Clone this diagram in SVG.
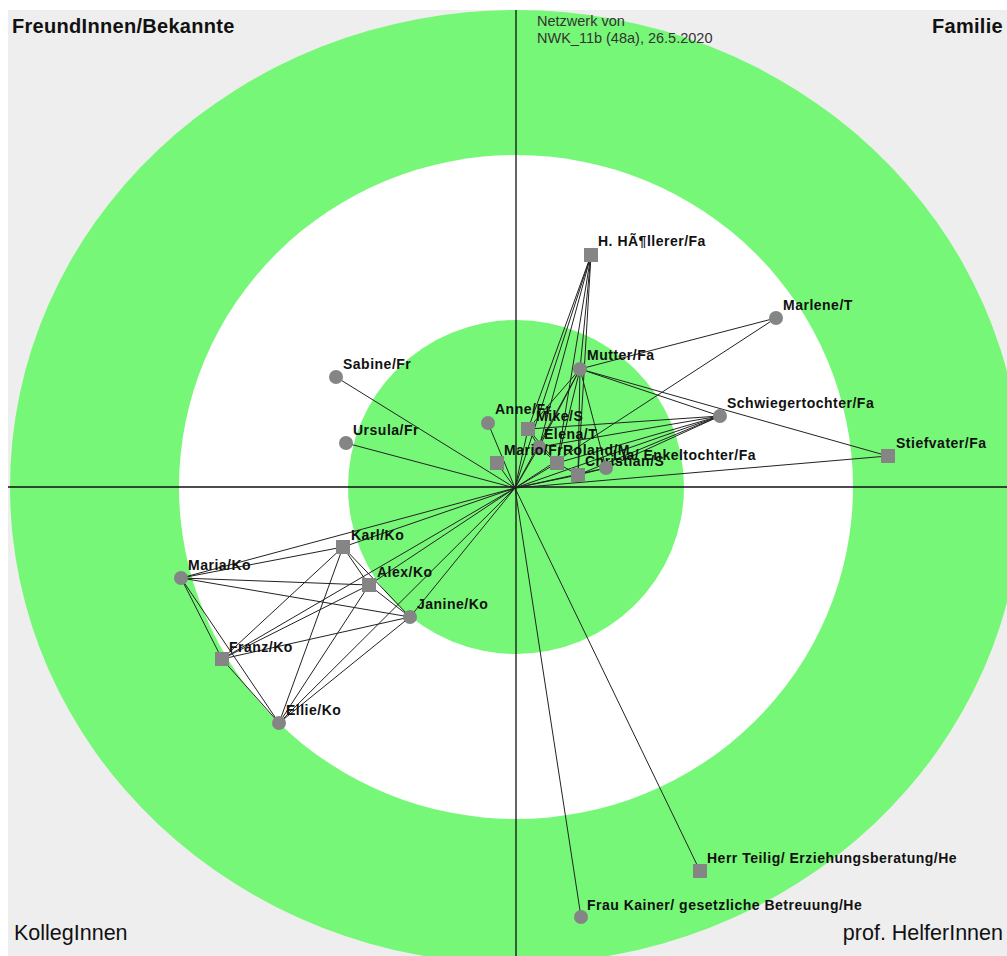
<svg xmlns="http://www.w3.org/2000/svg" width="1007" height="956" viewBox="0 0 1007 956">
<style>
.lbl{font-family:"Liberation Sans",Arial,sans-serif;font-weight:bold;font-size:14px;letter-spacing:0.5px;fill:#111}
.q{font-family:"Liberation Sans",Arial,sans-serif;font-size:20px;fill:#111}
.qr{font-size:21.5px}
.qb{font-weight:bold;letter-spacing:0.3px}
.hd{font-family:"Liberation Sans",Arial,sans-serif;font-size:14.5px;fill:#333}
.n{fill:#858585}
.e line{stroke:#222;stroke-width:1}
.ax{stroke:#111;stroke-width:1.3}
</style>
<rect x="0" y="0" width="1007" height="956" fill="#ffffff"/>
<rect x="8" y="10" width="999" height="946" fill="#eeeeee"/>
<g id="rings">
<ellipse cx="516" cy="487" rx="506" ry="477" fill="#77f777"/>
<ellipse cx="516" cy="487" rx="337" ry="332" fill="#ffffff"/>
<ellipse cx="516" cy="487" rx="168" ry="167" fill="#77f777"/>
</g>
<g id="axes">
<line class="ax" x1="516" y1="10" x2="516" y2="956"/>
<line class="ax" x1="8" y1="487" x2="1007" y2="487"/>
</g>
<g id="header">
<text class="hd" x="537" y="26">Netzwerk von</text>
<text class="hd" x="537" y="43">NWK_11b (48a), 26.5.2020</text>
</g>
<g id="quadrants">
<text class="q qb" x="12" y="33">FreundInnen/Bekannte</text>
<text class="q qb" x="1003" y="33" text-anchor="end">Familie</text>
<text class="q qr" x="14" y="940">KollegInnen</text>
<text class="q qr" x="1003" y="940" text-anchor="end">prof. HelferInnen</text>
</g>
<g id="connectors" class="e">
<line x1="515" y1="488" x2="336" y2="377"/>
<line x1="515" y1="488" x2="346" y2="443"/>
<line x1="515" y1="488" x2="488" y2="423"/>
<line x1="515" y1="488" x2="528" y2="429"/>
<line x1="515" y1="488" x2="539" y2="447"/>
<line x1="515" y1="488" x2="497" y2="463"/>
<line x1="515" y1="488" x2="557" y2="463"/>
<line x1="515" y1="488" x2="578" y2="475"/>
<line x1="515" y1="488" x2="606" y2="468"/>
<line x1="515" y1="488" x2="580" y2="369"/>
<line x1="515" y1="488" x2="591" y2="255"/>
<line x1="515" y1="488" x2="776" y2="318"/>
<line x1="515" y1="488" x2="720" y2="416"/>
<line x1="515" y1="488" x2="888" y2="456"/>
<line x1="515" y1="488" x2="343" y2="547"/>
<line x1="515" y1="488" x2="181" y2="578"/>
<line x1="515" y1="488" x2="369" y2="585"/>
<line x1="515" y1="488" x2="410" y2="617"/>
<line x1="515" y1="488" x2="222" y2="659"/>
<line x1="515" y1="488" x2="279" y2="723"/>
<line x1="515" y1="488" x2="700" y2="871"/>
<line x1="515" y1="488" x2="581" y2="917"/>
<line x1="591" y1="255" x2="580" y2="369"/>
<line x1="591" y1="255" x2="528" y2="429"/>
<line x1="591" y1="255" x2="539" y2="447"/>
<line x1="591" y1="255" x2="557" y2="463"/>
<line x1="591" y1="255" x2="578" y2="475"/>
<line x1="580" y1="369" x2="776" y2="318"/>
<line x1="580" y1="369" x2="720" y2="416"/>
<line x1="580" y1="369" x2="888" y2="456"/>
<line x1="580" y1="369" x2="528" y2="429"/>
<line x1="580" y1="369" x2="539" y2="447"/>
<line x1="580" y1="369" x2="557" y2="463"/>
<line x1="580" y1="369" x2="578" y2="475"/>
<line x1="580" y1="369" x2="606" y2="468"/>
<line x1="720" y1="416" x2="528" y2="429"/>
<line x1="720" y1="416" x2="539" y2="447"/>
<line x1="720" y1="416" x2="557" y2="463"/>
<line x1="720" y1="416" x2="578" y2="475"/>
<line x1="720" y1="416" x2="606" y2="468"/>
<line x1="528" y1="429" x2="539" y2="447"/>
<line x1="528" y1="429" x2="557" y2="463"/>
<line x1="539" y1="447" x2="557" y2="463"/>
<line x1="557" y1="463" x2="578" y2="475"/>
<line x1="578" y1="475" x2="606" y2="468"/>
<line x1="343" y1="547" x2="181" y2="578"/>
<line x1="343" y1="547" x2="369" y2="585"/>
<line x1="343" y1="547" x2="410" y2="617"/>
<line x1="343" y1="547" x2="222" y2="659"/>
<line x1="343" y1="547" x2="279" y2="723"/>
<line x1="181" y1="578" x2="369" y2="585"/>
<line x1="181" y1="578" x2="410" y2="617"/>
<line x1="181" y1="578" x2="222" y2="659"/>
<line x1="181" y1="578" x2="279" y2="723"/>
<line x1="369" y1="585" x2="410" y2="617"/>
<line x1="369" y1="585" x2="222" y2="659"/>
<line x1="369" y1="585" x2="279" y2="723"/>
<line x1="410" y1="617" x2="222" y2="659"/>
<line x1="410" y1="617" x2="279" y2="723"/>
<line x1="222" y1="659" x2="279" y2="723"/>
</g>
<g id="n-sabine"><circle class="n" cx="336" cy="377" r="7"/><text class="lbl" x="343" y="369">Sabine/Fr</text></g>
<g id="n-ursula"><circle class="n" cx="346" cy="443" r="7"/><text class="lbl" x="353" y="435">Ursula/Fr</text></g>
<g id="n-anne"><circle class="n" cx="488" cy="423" r="7"/><text class="lbl" x="495" y="414">Anne/Fr</text></g>
<g id="n-mike"><rect class="n" x="521" y="422" width="14" height="14"/><text class="lbl" x="536" y="421">Mike/S</text></g>
<g id="n-elena"><circle class="n" cx="539" cy="447" r="7"/><text class="lbl" x="544" y="439">Elena/T</text></g>
<g id="n-mario"><rect class="n" x="490" y="456" width="14" height="14"/><text class="lbl" x="504" y="455">Mario/Fr</text></g>
<g id="n-roland"><rect class="n" x="550" y="456" width="14" height="14"/><text class="lbl" x="563" y="455">Roland/M</text></g>
<g id="n-christian"><rect class="n" x="571" y="468" width="14" height="14"/><text class="lbl" x="585" y="466">Christian/S</text></g>
<g id="n-lia"><circle class="n" cx="606" cy="468" r="7"/><text class="lbl" x="613" y="460">Lia/ Enkeltochter/Fa</text></g>
<g id="n-mutter"><circle class="n" cx="580" cy="369" r="7"/><text class="lbl" x="587" y="360">Mutter/Fa</text></g>
<g id="n-hoellerer"><rect class="n" x="584" y="248" width="14" height="14"/><text class="lbl" x="598" y="246">H. HÃ¶llerer/Fa</text></g>
<g id="n-marlene"><circle class="n" cx="776" cy="318" r="7"/><text class="lbl" x="783" y="310">Marlene/T</text></g>
<g id="n-schwiegertochter"><circle class="n" cx="720" cy="416" r="7"/><text class="lbl" x="727" y="408">Schwiegertochter/Fa</text></g>
<g id="n-stiefvater"><rect class="n" x="881" y="449" width="14" height="14"/><text class="lbl" x="896" y="448">Stiefvater/Fa</text></g>
<g id="n-karl"><rect class="n" x="336" y="540" width="14" height="14"/><text class="lbl" x="351" y="540">Karl/Ko</text></g>
<g id="n-maria"><circle class="n" cx="181" cy="578" r="7"/><text class="lbl" x="188" y="570">Maria/Ko</text></g>
<g id="n-alex"><rect class="n" x="362" y="578" width="14" height="14"/><text class="lbl" x="377" y="577">Alex/Ko</text></g>
<g id="n-janine"><circle class="n" cx="410" cy="617" r="7"/><text class="lbl" x="417" y="609">Janine/Ko</text></g>
<g id="n-franz"><rect class="n" x="215" y="652" width="14" height="14"/><text class="lbl" x="229" y="652">Franz/Ko</text></g>
<g id="n-ellie"><circle class="n" cx="279" cy="723" r="7"/><text class="lbl" x="286" y="715">Ellie/Ko</text></g>
<g id="n-teilig"><rect class="n" x="693" y="864" width="14" height="14"/><text class="lbl" x="707" y="863">Herr Teilig/ Erziehungsberatung/He</text></g>
<g id="n-kainer"><circle class="n" cx="581" cy="917" r="7"/><text class="lbl" x="587" y="910">Frau Kainer/ gesetzliche Betreuung/He</text></g>
</svg>
